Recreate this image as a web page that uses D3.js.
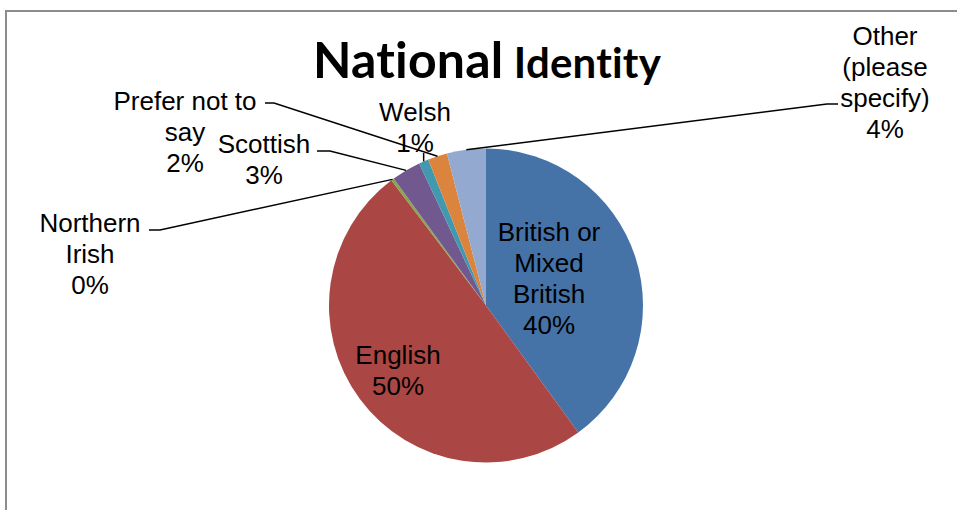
<!DOCTYPE html>
<html>
<head>
<meta charset="utf-8">
<script src="https://cdn.jsdelivr.net/npm/d3@7"></script>
<style>
  html, body { margin: 0; padding: 0; background: #fff; }
  svg { display: block; }
  .title { font-variant-ligatures: none; font-feature-settings: "liga" 0, "clig" 0; letter-spacing: 0.2px; }
</style>
</head>
<body>
<svg id="chart" width="957" height="510"></svg>
<script>
// ---- data ----
const categories = ["British or Mixed British", "English", "Northern Irish", "Scottish", "Welsh", "Prefer not to say", "Other (please specify)"];
const labelLines = [["British or", "Mixed", "British"], ["English"], ["Northern", "Irish"], ["Scottish"], ["Welsh"], ["Prefer not to", "say"], ["Other", "(please", "specify)"]];
const values = [40, 49.7, 0.3, 3, 1, 2, 4];
const colors = ["#4572A7", "#AA4643", "#89A54E", "#71588F", "#4198AF", "#DB843D", "#93A9CF"];
const titleMain = "National";
const titleSub = "Identity";

// ---- layout (styling only) ----
const W = 957, H = 510;
const cx = 486, cy = 305.5, R = 157;
const lineH = 31;
const labelLayout = [
  {x: 549, y: 232, inside: true},
  {x: 398, y: 355, inside: true},
  {x: 90, y: 223, elbow: [149, 160], ly: 230},
  {x: 264, y: 144, elbow: [317, 330], ly: 151},
  {x: 415, y: 112, vertical: true},
  {x: 185, y: 101, elbow: [265, 274], ly: 103},
  {x: 885, y: 36, elbow: [838, 827], ly: 104}
];

const svg = d3.select("#chart");
svg.append("rect").attr("width", W).attr("height", H).attr("fill", "#fff");
svg.append("path").attr("d", `M6,${H + 5}V11H${W + 5}`).attr("fill", "none")
  .attr("stroke", "#8c8c8c").attr("stroke-width", 2);

const title = svg.append("text").attr("class", "title").attr("x", 487).attr("y", 78).attr("text-anchor", "middle")
  .attr("font-family", "Lato, 'Open Sans', sans-serif").attr("font-weight", "bold").attr("fill", "#000");
title.append("tspan").attr("font-size", 50).text(titleMain);
title.append("tspan").attr("font-size", 42).text(" " + titleSub);

const total = d3.sum(values);
const pie = d3.pie().sort(null).value(d => d)(values);
const arc = d3.arc().innerRadius(0).outerRadius(R);

const g = svg.append("g").attr("transform", `translate(${cx},${cy})`);
g.selectAll("path.slice").data(pie).join("path").attr("class", "slice")
  .attr("d", arc).attr("fill", (d, i) => colors[i]);

const pct = v => Math.round(v / total * 100) + "%";

pie.forEach((d, i) => {
  const L = labelLayout[i];
  const lines = labelLines[i].concat([pct(values[i])]);
  const t = svg.append("text").attr("text-anchor", "middle")
    .attr("font-family", "'Liberation Sans', Arial, sans-serif").attr("font-size", 26).attr("fill", "#000");
  lines.forEach((s, k) => {
    t.append("tspan").attr("x", L.x).attr("y", L.y + k * lineH).attr("dy", "0.35em").text(s);
  });
  if (L.inside) return;
  const mid = (d.startAngle + d.endAngle) / 2;
  const px = cx + R * Math.sin(mid), py = cy - R * Math.cos(mid);
  const pts = L.vertical
    ? [[px, L.y + lineH + 10], [px, py]]
    : [[L.elbow[0], L.ly], [L.elbow[1], L.ly], [px, py]];
  svg.append("path").attr("d", d3.line()(pts)).attr("fill", "none")
    .attr("stroke", "#000").attr("stroke-width", 1.5);
});
</script>
</body>
</html>
